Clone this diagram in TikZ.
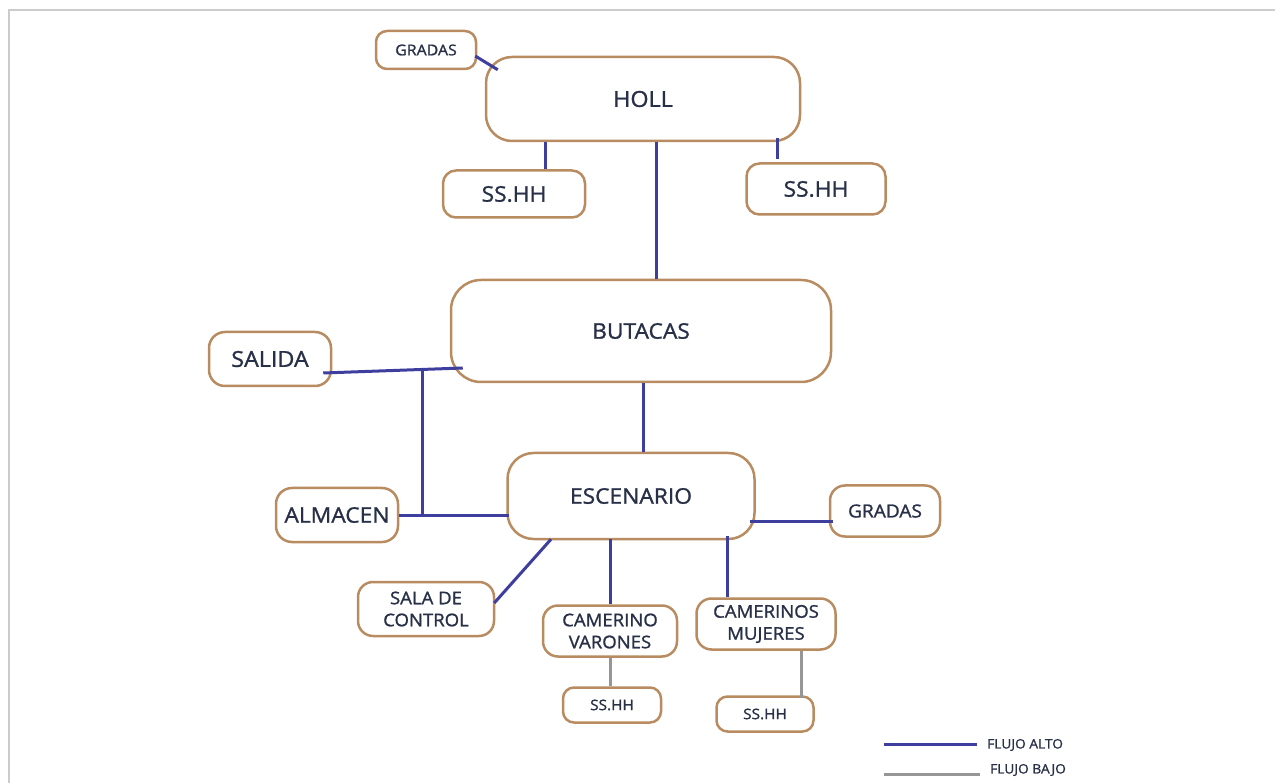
\documentclass[tikz,border=0pt]{standalone}
\usepackage{fontspec}
\setmainfont{Open Sans}[FakeBold=1.2, FakeStretch=1.06]
\usetikzlibrary{calc}
\definecolor{boxbrown}{RGB}{184,140,96}
\definecolor{flowhi}{RGB}{62,62,158}
\definecolor{flowlo}{RGB}{150,150,150}
\definecolor{txt}{RGB}{40,48,72}
\definecolor{framecol}{RGB}{204,204,204}
\newcommand{\fs}[1]{\fontsize{#1}{#1}\selectfont}
\newcommand{\fd}[1]{\fontsize{#1}{22}\selectfont}
\tikzset{
  box/.style={draw=boxbrown, line width=2.5pt, rounded corners=13pt, inner sep=0pt,
    text=txt, align=center, fill=white},
  hi/.style={draw=flowhi, line width=3pt},
  lo/.style={draw=flowlo, line width=3pt},
}
\begin{document}
\begin{tikzpicture}[x=1pt,y=-1pt]
\useasboundingbox (0,0) rectangle (1275,783);
\draw[framecol, line width=2pt] (9,783) -- (9,10) -- (1275,10);

% nodes
\node[box, minimum width=100, minimum height=38, rounded corners=11pt, font=\fs{15}] (gradasT) at (426,50) {GRADAS};
\node[box, minimum width=314, minimum height=84, rounded corners=26pt, font=\fs{22}] (holl) at (643,99) {HOLL};
\node[box, minimum width=142, minimum height=47, font=\fs{21.5}] (sshl) at (514,194) {SS.HH};
\node[box, minimum width=139, minimum height=51, font=\fs{21.5}] (sshr) at (816,189) {SS.HH};
\node[box, minimum width=380, minimum height=102, rounded corners=30pt, font=\fs{21.5}] (butacas) at (641,331) {BUTACAS};
\node[box, minimum width=122, minimum height=54, rounded corners=16pt, font=\fs{22}] (salida) at (270,359) {SALIDA};
\node[box, minimum width=122, minimum height=54, rounded corners=16pt, font=\fs{21.5}] (almacen) at (337,515) {ALMACEN};
\node[box, minimum width=247, minimum height=86, rounded corners=26pt, font=\fs{21.5}] (escenario) at (631,496) {ESCENARIO};
\node[box, minimum width=110, minimum height=51, rounded corners=15pt, font=\fs{18}] (gradasR) at (885,511) {GRADAS};
\node[box, minimum width=136, minimum height=54, rounded corners=15pt, font=\fd{17.5}] (sala) at (426,609) {SALA DE\\CONTROL};
\node[box, minimum width=134, minimum height=51, rounded corners=15pt, font=\fd{17.5}] (camv) at (610,631) {CAMERINO\\VARONES};
\node[box, minimum width=139, minimum height=51, rounded corners=15pt, font=\fd{17.5}] (camm) at (766,624) {CAMERINOS\\MUJERES};
\node[box, minimum width=98, minimum height=35, rounded corners=11pt, font=\fs{14.5}] (sshv) at (612,705) {SS.HH};
\node[box, minimum width=97, minimum height=35, rounded corners=11pt, font=\fs{14.5}] (sshm) at (765,714) {SS.HH};

% anchor helpers
\coordinate (hA) at ($(sshl.north)+(31,0)$);
\coordinate (hB) at ($(holl.south)+(13,0)$);
\coordinate (bA) at ($(butacas.south)+(2,0)$);
\coordinate (mA) at ($(camm.south)+(35,0)$);
\coordinate (js) at (422,371);

% high flow connectors
\draw[hi] ($(gradasT.east)+(-2,6)$) -- ($(holl.north west)+(13,14)$);
\draw[hi] (hA) -- (hA |- holl.south);
\draw[hi] (hB) -- (hB |- butacas.north);
\draw[hi] ($(holl.south)+(134,-4)$) -- ($(sshr.north)+(-39,-3)$);
\draw[hi] ($(salida.east)+(-9,14)$) -- ($(butacas.west)+(13,37)$);
\draw[hi] (js) -- (js |- almacen.east);
\draw[hi] (almacen.east) -- ($(almacen.east -| escenario.west)+(3,0)$);
\draw[hi] (bA) -- (bA |- escenario.north);
\draw[hi] ($(escenario.east)+(-6,25)$) -- ($(gradasR.west)+(4,10)$);
\draw[hi] ($(escenario.south)+(-80,-1)$) -- ($(sala.east)+(-1,-6)$);
\draw[hi] ($(escenario.south)+(-21,-1)$) -- (camv.north);
\draw[hi] ($(escenario.south)+(96,-4)$) -- ($(camm.north)+(-39,0)$);

% low flow connectors
\draw[lo] (camv.south) -- (camv.south |- sshv.north);
\draw[lo] (mA) -- ($(mA |- sshm.north)+(0,3)$);

% legend
\node[anchor=west, text=txt, font=\fs{13}, inner sep=0pt] (lalto) at (987,745) {FLUJO ALTO};
\node[anchor=west, text=txt, font=\fs{13}, inner sep=0pt] (lbajo) at (990,770) {FLUJO BAJO};
\coordinate (la0) at (884,744);
\coordinate (lb0) at (884,774);
\draw[hi] (la0) -- ($(la0 -| lalto.west)+(-10,0)$);
\draw[lo] (lb0) -- ($(lb0 -| lbajo.west)+(-10,0)$);
\end{tikzpicture}
\end{document}
